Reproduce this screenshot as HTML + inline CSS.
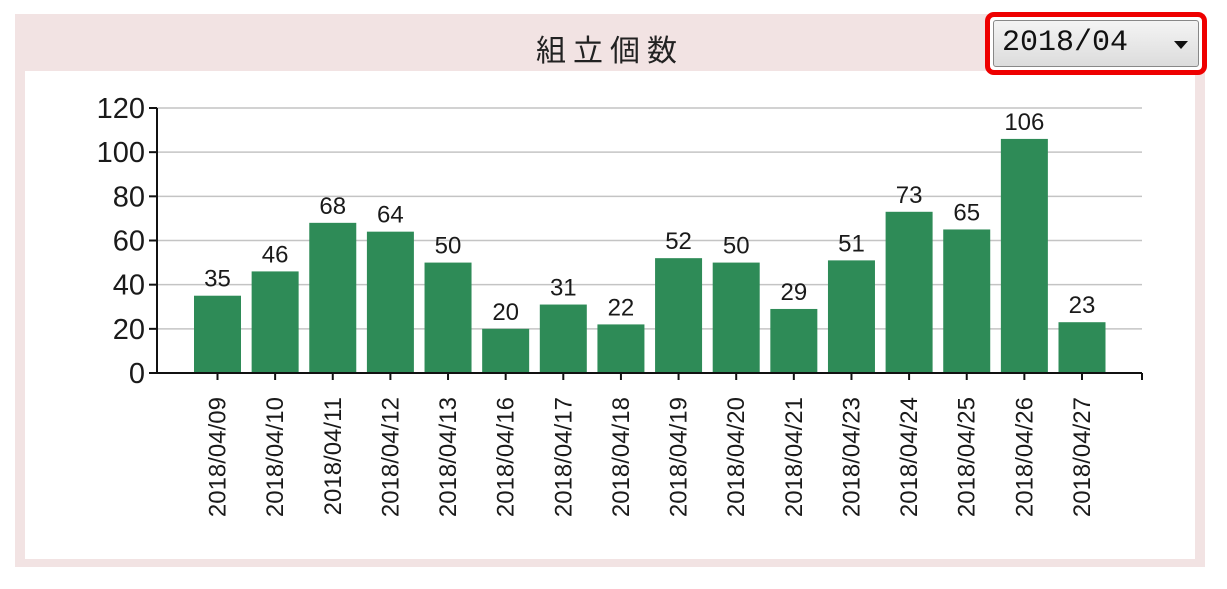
<!DOCTYPE html>
<html><head><meta charset="utf-8"><style>
body{margin:0;width:1227px;height:589px;background:#fff;overflow:hidden;font-family:"Liberation Sans","Noto Sans CJK JP",sans-serif;}
#panel{position:absolute;left:15px;top:14px;width:1190px;height:553px;background:#f2e3e3;}
#inner{position:absolute;left:25px;top:71px;width:1170px;height:488px;background:#fff;}
#title{position:absolute;left:450px;top:26px;width:320px;text-align:center;font-size:30px;letter-spacing:7px;color:#222;}
#dd{position:absolute;left:985px;top:12px;width:212px;height:53px;border:5px solid #e00;border-radius:9px;background:#fff;}
#ddbox{position:absolute;left:3px;top:3px;right:3px;bottom:3px;border:1px solid #888;border-radius:3px;background:linear-gradient(#f4f4f4,#dcdcdc);}
#ddtext{position:absolute;left:8px;top:5px;font-family:"Liberation Mono",monospace;font-size:30px;color:#111;}
#ddarrow{position:absolute;right:10px;top:20px;width:0;height:0;border-left:7px solid transparent;border-right:7px solid transparent;border-top:8px solid #111;}
svg{position:absolute;left:0;top:0;}
</style></head><body>
<div id="panel"></div>
<div id="inner"></div>
<div id="title">組立個数</div>
<div id="dd"><div id="ddbox"><span id="ddtext">2018/04</span><div id="ddarrow"></div></div></div>
<svg id="chart" width="1227" height="589"></svg>
<script>
const categories=["2018/04/09","2018/04/10","2018/04/11","2018/04/12","2018/04/13","2018/04/16","2018/04/17","2018/04/18","2018/04/19","2018/04/20","2018/04/21","2018/04/23","2018/04/24","2018/04/25","2018/04/26","2018/04/27"];
const values=[35,46,68,64,50,20,31,22,52,50,29,51,73,65,106,23];
const yTicks=[0,20,40,60,80,100,120];
const NS="http://www.w3.org/2000/svg";
const svg=document.getElementById('chart');
const x0=157,x1=1142,y0=373,y1=108,yMax=120;
const y=v=>y0-(v/yMax)*(y0-y1);
const step=(1082-217.5)/15;
const xc=i=>217.5+i*step;
const bw=47;
function el(t,a){const e=document.createElementNS(NS,t);for(const k in a)e.setAttribute(k,a[k]);svg.appendChild(e);return e;}
yTicks.forEach(v=>{
  if(v>0){const g=el('line',{x1:x0,x2:x1,y1:y(v),y2:y(v),stroke:'#c4c4c4','stroke-width':1.5});
  
  }
  const tk=el('line',{x1:x0-8,x2:x0,y1:y(v),y2:y(v),stroke:'#111','stroke-width':2});
  
  
  const t=el('text',{x:x0-12,y:y(v)+10,'text-anchor':'end','font-size':29,fill:'#1a1a1a'});
  t.textContent=v;
  
  
});
values.forEach((v,i)=>{
  const r=el('rect',{x:xc(i)-bw/2,y:y(v),width:bw,height:y0-y(v),fill:'#2e8b57'});
  
  
  const t=el('text',{x:xc(i),y:y(v)-9,'text-anchor':'middle','font-size':24,fill:'#1a1a1a'});
  t.textContent=v;
  
  
  const tk=el('line',{x1:xc(i),x2:xc(i),y1:y0,y2:y0+7,stroke:'#111','stroke-width':2});
  
  
  const l=el('text',{x:0,y:0,'text-anchor':'end','font-size':24,fill:'#1a1a1a',transform:`translate(${xc(i)+8},397) rotate(-90)`});
  l.textContent=categories[i];
  
  
});
const ya=el('line',{x1:x0,x2:x0,y1:y1,y2:y0+1,stroke:'#111','stroke-width':2});


const xa=el('line',{x1:x0-8,x2:x1,y1:y0,y2:y0,stroke:'#111','stroke-width':2});


const xe=el('line',{x1:x1,x2:x1,y1:y0,y2:y0+7,stroke:'#111','stroke-width':2});


</script>
</body></html>
